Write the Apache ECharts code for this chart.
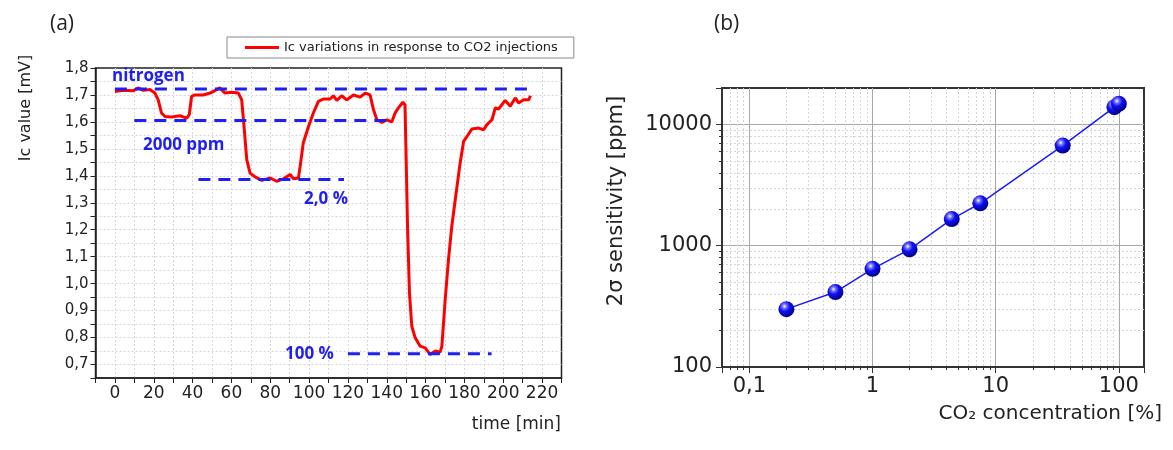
<!DOCTYPE html>
<html>
<head>
<meta charset="utf-8">
<script src="https://cdn.jsdelivr.net/npm/echarts@6/dist/echarts.min.js"></script>
<style>
	html, body { margin: 0; padding: 0; background: #fff; }
	#main { width: 1173px; height: 450px; }
</style>
</head>
<body>
<div id="main"></div>
<script>
// (a) Ic trace
var timeMin = [0, 4.3, 9.5, 12, 14.6, 18, 20.6, 22.3, 24, 25.8, 29.2, 33.5, 37, 38.3, 39.5, 41.2, 45.5, 49, 52.4, 54,
	56.7, 60, 63.6, 65.3, 66.5, 67.9, 69.6, 72.2, 75.6, 80, 83.3, 86.8, 90.2, 92, 94.5, 95.4, 97, 99.7, 102.2, 104.8,
	107.4, 110.8, 112.5, 114.3, 116.8, 119.4, 122.9, 126.3, 128.9, 131.4, 133.2, 134.9, 137.5, 140, 142.6, 144.3, 146, 148.3, 149.4, 150,
	150.7, 151.7, 152.9, 154.6, 157.2, 159.8, 162.4, 165, 167.5, 168.4, 170.1, 171.8, 173.5, 175.3, 177.8, 179.6, 181.3, 183.9, 187.3, 189.9,
	191.6, 194.2, 195.9, 197.6, 201, 203.6, 206.2, 207.9, 210.5, 213.1, 214];
var icValue = [1.713, 1.717, 1.716, 1.726, 1.717, 1.72, 1.707, 1.682, 1.633, 1.62, 1.618, 1.623, 1.614, 1.627, 1.695, 1.70, 1.70, 1.707, 1.72, 1.726,
	1.707, 1.71, 1.707, 1.682, 1.583, 1.46, 1.41, 1.396, 1.383, 1.392, 1.38, 1.389, 1.405, 1.389, 1.392, 1.435, 1.522, 1.583, 1.633, 1.676,
	1.685, 1.685, 1.697, 1.68, 1.697, 1.682, 1.70, 1.692, 1.707, 1.70, 1.645, 1.608, 1.598, 1.608, 1.60, 1.633, 1.652, 1.673, 1.664, 1.46,
	1.213, 0.966, 0.842, 0.80, 0.768, 0.762, 0.737, 0.75, 0.746, 0.768, 0.941, 1.089, 1.213, 1.312, 1.448, 1.528, 1.546, 1.574, 1.577, 1.571,
	1.59, 1.608, 1.652, 1.648, 1.68, 1.658, 1.689, 1.67, 1.682, 1.682, 1.697];

// dashed reference levels
var refLabel = ['nitrogen', '2000 ppm', '2,0 %', '100 %'];
var refLevel = [1.722, 1.605, 1.386, 0.74];
var refStart = [0, 10, 43, 120];
var refEnd = [213, 143, 118, 194];

// (b) sensitivity
var co2Pct = [0.2, 0.5, 1, 2, 4.4, 7.5, 35, 92, 100];
var sensPpm = [300, 415, 645, 935, 1660, 2240, 6700, 13900, 14800];

var legendName = 'Ic variations in response to CO2 injections';
var blue = '#1f1ff0';
var axisColor = '#222';

// tiny stand-in for jQuery's extend
var $ = {
	extend: function (target) {
		for (var i = 1; i < arguments.length; i++) {
			var src = arguments[i];
			for (var key in src) { target[key] = src[key]; }
		}
		return target;
	}
};

var pageModule = function () {

	var comma = function (v, digits) {
		return v.toFixed(digits).replace('.', ',');
	};

	var isPow10 = function (v) {
		var l = Math.log10(v);
		return Math.abs(l - Math.round(l)) < 1e-6;
	};

	var buildSeries = function () {
		var series = [];
		var trace = [];
		for (var i = 0; i < timeMin.length; i++) {
			trace.push([timeMin[i], icValue[i]]);
		}
		series.push({
			name: legendName,
			type: 'line',
			xAxisIndex: 0,
			yAxisIndex: 0,
			data: trace,
			showSymbol: false,
			lineStyle: { color: '#ff0000', width: 3 },
			itemStyle: { color: '#ff0000' },
			z: 3
		});
		for (var k = 0; k < refLevel.length; k++) {
			series.push({
				name: refLabel[k],
				type: 'line',
				xAxisIndex: 0,
				yAxisIndex: 0,
				data: [[refStart[k], refLevel[k]], [refEnd[k], refLevel[k]]],
				showSymbol: false,
				silent: true,
				lineStyle: { color: blue, width: 3, type: [12, 8] },
				z: 4
			});
		}
		var pts = [];
		for (var j = 0; j < co2Pct.length; j++) {
			pts.push([co2Pct[j], sensPpm[j]]);
		}
		series.push({
			name: 'sensitivity',
			type: 'line',
			xAxisIndex: 1,
			yAxisIndex: 1,
			data: pts,
			symbol: 'circle',
			symbolSize: 16,
			lineStyle: { color: '#1a1aff', width: 1.5 },
			itemStyle: {
				color: {
					type: 'radial', x: 0.38, y: 0.32, r: 0.72,
					colorStops: [
						{ offset: 0, color: '#ffffff' },
						{ offset: 0.18, color: '#7a7aff' },
						{ offset: 0.45, color: '#1010f5' },
						{ offset: 1, color: '#00007a' }
					]
				}
			},
			z: 3
		});
		return series;
	};

	var textEl = function (text, x, y, size, opts) {
		opts = opts || {};
		return {
			type: 'text',
			x: x,
			y: y,
			rotation: opts.rotation || 0,
			z: 10,
			style: {
				text: text,
				fill: opts.color || axisColor,
				font: (opts.bold ? 'bold ' : '') + size + 'px ' + (opts.family || '"DejaVu Sans"'),
				align: opts.align || 'left',
				verticalAlign: 'middle'
			}
		};
	};

	var initChart = function () {
		var chart = echarts.init(document.getElementById('main'));
		var labelFont = { fontFamily: 'DejaVu Sans', color: axisColor };
		var annoFont = { family: '"Open Sans"', bold: true, color: blue };
		var minorGrid = { color: '#d6d6d6', type: [2, 2] };
		chart.setOption({
			animation: false,
			backgroundColor: '#fff',
			legend: {
				data: [legendName],
				left: 227,
				top: 37,
				padding: [4, 16, 4, 18],
				borderColor: '#888',
				borderWidth: 1,
				icon: 'rect',
				itemWidth: 34,
				itemHeight: 3,
				textStyle: { fontFamily: 'DejaVu Sans', fontSize: 13, color: axisColor }
			},
			grid: [
				{ left: 95.5, top: 68, width: 466, height: 310, show: true, borderColor: axisColor, borderWidth: 1.5 },
				{ left: 722, top: 88, width: 422, height: 279, show: true, borderColor: '#333', borderWidth: 2 }
			],
			xAxis: [
				{
					type: 'value', gridIndex: 0, min: -10, max: 230, interval: 10,
					axisLine: { onZero: false, lineStyle: { color: axisColor, width: 1.5 } },
					axisTick: { length: 5, lineStyle: { color: axisColor } },
					axisLabel: $.extend({}, labelFont, {
						fontSize: 17, margin: 7, hideOverlap: false,
						formatter: function (v) { return v % 20 === 0 ? String(v) : ''; }
					}),
					splitLine: { showMinLine: false, showMaxLine: false, lineStyle: minorGrid }
				},
				{
					type: 'log', gridIndex: 1, min: 0.06, max: 160, logBase: 10,
					axisLine: { onZero: false, lineStyle: { color: '#333', width: 2 } },
					axisTick: { length: 6, lineStyle: { color: '#333' } },
					minorTick: { show: true, splitNumber: 9, length: 3, lineStyle: { color: '#333' } },
					axisLabel: $.extend({}, labelFont, {
						fontSize: 21, margin: 9, hideOverlap: false,
						formatter: function (v) { return isPow10(v) ? String(v).replace('.', ',') : ''; }
					}),
					splitLine: { showMinLine: false, showMaxLine: false, lineStyle: { color: '#a8a8a8', width: 1 } },
					minorSplitLine: { show: true, lineStyle: minorGrid }
				}
			],
			yAxis: [
				{
					type: 'value', gridIndex: 0, min: 0.65, max: 1.8, interval: 0.05,
					axisLine: { show: true, onZero: false, lineStyle: { color: axisColor, width: 1.5 } },
					axisTick: { show: true, length: 5, lineStyle: { color: axisColor } },
					axisLabel: $.extend({}, labelFont, {
						fontSize: 15, margin: 7, hideOverlap: false,
						formatter: function (v) {
							return Math.round(v * 100) % 10 === 0 ? comma(v, 1) : '';
						}
					}),
					splitLine: { showMinLine: false, showMaxLine: false, lineStyle: minorGrid }
				},
				{
					type: 'log', gridIndex: 1, min: 100, max: 20000, logBase: 10,
					axisLine: { show: true, onZero: false, lineStyle: { color: '#333', width: 2 } },
					axisTick: { show: true, length: 6, lineStyle: { color: '#333' } },
					minorTick: { show: true, splitNumber: 9, length: 3, lineStyle: { color: '#333' } },
					axisLabel: $.extend({}, labelFont, {
						fontSize: 21, margin: 10, hideOverlap: false,
						formatter: function (v) { return isPow10(v) ? String(v) : ''; }
					}),
					splitLine: { showMinLine: false, showMaxLine: false, lineStyle: { color: '#a8a8a8', width: 1 } },
					minorSplitLine: { show: true, lineStyle: minorGrid }
				}
			],
			graphic: [
				textEl('(a)', 50, 24, 21, { family: '"Open Sans"' }),
				textEl('(b)', 714, 24, 21, { family: '"Open Sans"' }),
				textEl('Ic value [mV]', 26, 108, 16, { rotation: Math.PI / 2, align: 'center' }),
				textEl('time [min]', 561, 425, 17, { align: 'right' }),
				textEl('2\u03c3 sensitivity [ppm]', 617, 201, 21, { rotation: Math.PI / 2, align: 'center' }),
				textEl('CO\u2082 concentration [%]', 1162, 414, 20, { align: 'right' }),
				textEl(refLabel[0], 112, 76, 17, annoFont),
				textEl(refLabel[1], 143, 145, 17, annoFont),
				textEl(refLabel[2], 304, 199, 17, annoFont),
				textEl(refLabel[3], 285, 354, 17, annoFont)
			],
			series: buildSeries()
		});
	};

	return {
		initControl: function () {
			initChart();
		}
	};
}();

pageModule.initControl();
</script>
</body>
</html>
